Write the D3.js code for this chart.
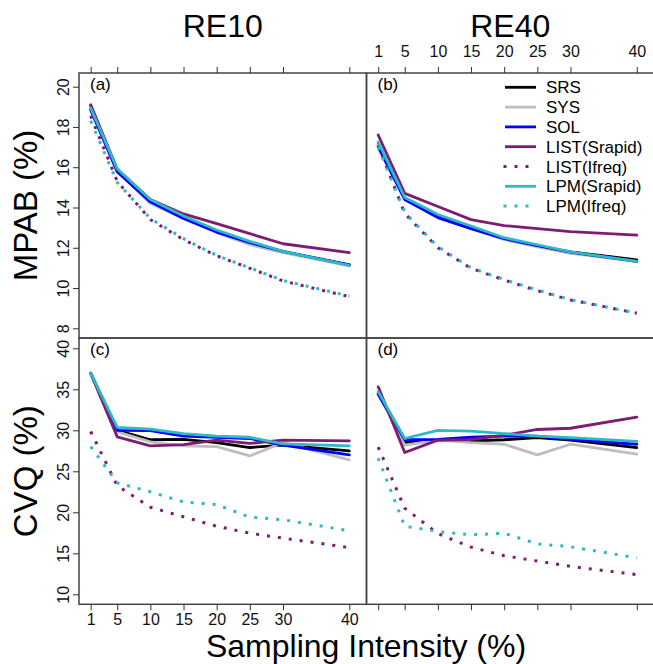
<!DOCTYPE html>
<html>
<head>
<meta charset="utf-8">
<script src="https://cdn.jsdelivr.net/npm/d3@7"></script>
<style>
  html, body { margin: 0; padding: 0; background: #fff; }
  svg { display: block; font-family: "Liberation Sans", Arial, Helvetica, sans-serif; }
</style>
</head>
<body>
<svg id="chart" width="653" height="664"></svg>
<script>
// Sampling intensities (%) on the x axis
const sampling = [1, 5, 10, 15, 20, 25, 30, 40];
const xTicks = [1, 5, 10, 15, 20, 25, 30, 40];
const mpabTicks = [8, 10, 12, 14, 16, 18, 20];
const cvqTicks = [10, 15, 20, 25, 30, 35, 40];

const seriesNames = ["SRS", "SYS", "SOL", "LIST(Srapid)", "LIST(Ifreq)", "LPM(Srapid)", "LPM(Ifreq)"];
const seriesColors = ["#000000", "#bebebe", "#0000ff", "#7e1b73", "#7e1b73", "#2db9c6", "#2db9c6"];
const seriesDotted = [false, false, false, false, true, false, true];

// (a) MPAB, RE10
const mpab10_SRS   = [19.05, 15.85, 14.25, 13.50, 12.80, 12.22, 11.80, 11.15];
const mpab10_SYS   = [18.95, 15.80, 14.20, 13.45, 12.75, 12.15, 11.76, 11.10];
const mpab10_SOL   = [18.85, 15.78, 14.28, 13.45, 12.78, 12.25, 11.82, 11.15];
const mpab10_LISTS = [19.10, 15.90, 14.40, 13.68, 13.20, 12.70, 12.20, 11.76];
const mpab10_LISTI = [18.55, 15.30, 13.40, 12.40, 11.60, 10.98, 10.35, 9.57];
const mpab10_LPMS  = [18.95, 15.92, 14.40, 13.58, 12.88, 12.32, 11.82, 11.12];
const mpab10_LPMI  = [18.30, 15.25, 13.45, 12.45, 11.62, 11.00, 10.38, 9.60];

// (b) MPAB, RE40
const mpab40_SRS   = [17.15, 14.45, 13.55, 13.00, 12.45, 12.10, 11.80, 11.40];
const mpab40_SYS   = [17.10, 14.40, 13.50, 12.95, 12.40, 12.05, 11.72, 11.32];
const mpab40_SOL   = [17.00, 14.40, 13.50, 12.95, 12.45, 12.10, 11.78, 11.32];
const mpab40_LISTS = [17.60, 14.70, 14.05, 13.40, 13.10, 12.95, 12.80, 12.63];
const mpab40_LISTI = [17.10, 13.70, 12.00, 10.98, 10.40, 9.87, 9.41, 8.75];
const mpab40_LPMS  = [17.25, 14.50, 13.65, 13.08, 12.50, 12.15, 11.80, 11.32];
const mpab40_LPMI  = [17.00, 13.75, 12.05, 11.00, 10.42, 9.90, 9.42, 8.75];

// (c) CVQ, RE10
const cvq10_SRS   = [36.95, 30.00, 28.85, 28.90, 28.50, 27.90, 28.20, 27.50];
const cvq10_SYS   = [36.95, 29.80, 28.60, 28.10, 28.00, 26.87, 28.50, 26.40];
const cvq10_SOL   = [36.95, 30.00, 29.95, 29.30, 29.15, 29.00, 28.20, 27.00];
const cvq10_LISTS = [36.95, 29.20, 28.10, 28.25, 28.80, 28.40, 28.80, 28.70];
const cvq10_LISTI = [29.85, 23.25, 20.62, 19.45, 18.30, 17.45, 16.85, 15.70];
const cvq10_LPMS  = [36.95, 30.35, 30.15, 29.60, 29.30, 29.15, 28.35, 28.10];
const cvq10_LPMI  = [28.00, 23.60, 22.50, 21.25, 20.95, 19.40, 19.10, 17.75];

// (d) CVQ, RE40
const cvq40_SRS   = [34.50, 28.50, 28.80, 28.70, 28.85, 29.10, 28.80, 27.90];
const cvq40_SYS   = [34.50, 28.20, 28.80, 28.50, 28.30, 27.00, 28.30, 27.10];
const cvq40_SOL   = [34.40, 28.85, 28.90, 29.15, 29.30, 29.30, 28.90, 28.30];
const cvq40_LISTS = [35.30, 27.30, 28.80, 28.85, 29.40, 30.10, 30.25, 31.60];
const cvq40_LISTI = [27.95, 20.50, 17.40, 15.75, 14.70, 14.05, 13.40, 12.40];
const cvq40_LPMS  = [34.70, 29.00, 30.00, 29.90, 29.60, 29.30, 29.10, 28.65];
const cvq40_LPMI  = [26.60, 18.30, 17.65, 17.25, 17.45, 16.15, 15.80, 14.45];

const svg = d3.select("#chart");
const FONT = '"Liberation Sans", Arial, Helvetica, sans-serif';

// panel frames
const colLeft = [79, 366.5];
const panelW = 287.5;
const rowTop = [73, 338];
const rowBottom = [338, 604.3];

const yMPAB = d3.scaleLinear().domain([8, 20]).range([328.3, 86.7]);
const yCVQ = d3.scaleLinear().domain([10, 40]).range([594.3, 348.3]);
const xFor = left => d3.scaleLinear().domain([1, 40]).range([left + 11.7, left + 270.3]);

const panels = [
  { tag: "(a)", col: 0, row: 0, y: yMPAB, data: [mpab10_SRS, mpab10_SYS, mpab10_SOL, mpab10_LISTS, mpab10_LISTI, mpab10_LPMS, mpab10_LPMI] },
  { tag: "(b)", col: 1, row: 0, y: yMPAB, data: [mpab40_SRS, mpab40_SYS, mpab40_SOL, mpab40_LISTS, mpab40_LISTI, mpab40_LPMS, mpab40_LPMI] },
  { tag: "(c)", col: 0, row: 1, y: yCVQ, data: [cvq10_SRS, cvq10_SYS, cvq10_SOL, cvq10_LISTS, cvq10_LISTI, cvq10_LPMS, cvq10_LPMI] },
  { tag: "(d)", col: 1, row: 1, y: yCVQ, data: [cvq40_SRS, cvq40_SYS, cvq40_SOL, cvq40_LISTS, cvq40_LISTI, cvq40_LPMS, cvq40_LPMI] }
];

const tickFont = 16;

function styleAxis(g) {
  g.select(".domain").remove();
  g.selectAll(".tick line").attr("stroke", "#333").attr("stroke-width", 1);
  g.selectAll(".tick text").attr("fill", "#111").attr("font-size", tickFont).attr("font-family", FONT);
}

panels.forEach(p => {
  const left = colLeft[p.col];
  const x = xFor(left);
  const y = p.y;
  const top = rowTop[p.row], bottom = rowBottom[p.row];
  const g = svg.append("g");

  // series lines
  const line = d3.line().x((d, i) => x(sampling[i])).y(d => y(d));
  p.data.forEach((vals, k) => {
    g.append("path")
      .datum(vals)
      .attr("d", line)
      .attr("fill", "none")
      .attr("stroke", seriesColors[k])
      .attr("stroke-width", seriesDotted[k] ? 3 : 2.8)
      .attr("stroke-linejoin", "round")
      .attr("stroke-linecap", seriesDotted[k] ? "butt" : "round")
      .attr("stroke-dasharray", seriesDotted[k] ? "3 8" : null);
  });

  // frame
  g.append("rect")
    .attr("x", left).attr("y", top)
    .attr("width", panelW).attr("height", bottom - top)
    .attr("fill", "none").attr("stroke", "#444").attr("stroke-width", 1.5);

  // panel tag
  g.append("text")
    .attr("x", left + 11).attr("y", top + 17)
    .attr("font-size", 17).attr("font-family", FONT)
    .text(p.tag);

  // x ticks along the top of the upper row, bottom of the lower row
  if (p.row === 0) {
    const ax = d3.axisTop(x).tickValues(xTicks).tickSize(6).tickSizeOuter(0).tickPadding(10);
    if (p.col === 0) ax.tickFormat("");
    const ag = svg.append("g").attr("transform", `translate(0,${top})`).call(ax);
    styleAxis(ag);
  } else {
    const ax = d3.axisBottom(x).tickValues(xTicks).tickSize(6).tickSizeOuter(0).tickPadding(3);
    if (p.col === 1) ax.tickFormat("");
    const ag = svg.append("g").attr("transform", `translate(0,${bottom})`).call(ax);
    styleAxis(ag);
  }

  // y axis on the left column
  if (p.col === 0) {
    const ax = d3.axisLeft(y).tickValues(p.row === 0 ? mpabTicks : cvqTicks).tickSize(6).tickSizeOuter(0);
    const ag = svg.append("g").attr("transform", `translate(${left},0)`).call(ax);
    styleAxis(ag);
    ag.selectAll(".tick text")
      .attr("x", null).attr("dy", null)
      .attr("text-anchor", "middle")
      .attr("transform", "translate(-10,0) rotate(-90)")
      .attr("y", 0);
  }
});

// legend inside panel (b)
const legend = svg.append("g");
seriesNames.forEach((name, k) => {
  const yy = 87.3 + k * 19.8;
  legend.append("line")
    .attr("x1", seriesDotted[k] ? 503.5 : 505).attr("x2", 536)
    .attr("y1", yy).attr("y2", yy)
    .attr("stroke", seriesColors[k])
    .attr("stroke-width", seriesDotted[k] ? 3 : 2.8)
    .attr("stroke-dasharray", seriesDotted[k] ? "3 8" : null);
  legend.append("text")
    .attr("x", 546).attr("y", yy + 6)
    .attr("font-size", 17).attr("font-family", FONT)
    .text(name);
});

// column titles
svg.append("text").attr("x", colLeft[0] + panelW / 2).attr("y", 37)
  .attr("text-anchor", "middle").attr("font-size", 32).attr("font-family", FONT).text("RE10");
svg.append("text").attr("x", colLeft[1] + panelW / 2).attr("y", 37)
  .attr("text-anchor", "middle").attr("font-size", 32).attr("font-family", FONT).text("RE40");

// row titles
svg.append("text").attr("transform", `translate(37,${(rowTop[0] + rowBottom[0]) / 2}) rotate(-90)`)
  .attr("text-anchor", "middle").attr("font-size", 33).attr("font-family", FONT).text("MPAB (%)");
svg.append("text").attr("transform", `translate(37,${(rowTop[1] + rowBottom[1]) / 2}) rotate(-90)`)
  .attr("text-anchor", "middle").attr("font-size", 33).attr("font-family", FONT).text("CVQ (%)");

// shared x title
svg.append("text").attr("x", 366).attr("y", 657)
  .attr("text-anchor", "middle").attr("font-size", 32).attr("font-family", FONT).text("Sampling Intensity (%)");
</script>
</body>
</html>
